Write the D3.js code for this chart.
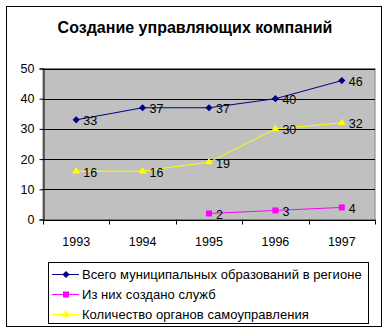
<!DOCTYPE html>
<html><head><meta charset="utf-8">
<script src="https://cdn.jsdelivr.net/npm/d3@7"></script>
<style>body{margin:0;background:#fff}svg{display:block;font-family:"Liberation Sans",Arial,sans-serif}</style>
</head><body>
<svg id="c" width="390" height="333"></svg>
<script>
const years = ["1993","1994","1995","1996","1997"];
const totalMunicipal = [33,37,37,40,46];
const servicesCreated = [null,null,2,3,4];
const selfGovBodies = [16,16,19,30,32];
const yTicks = [0,10,20,30,40,50];
const seriesNames = ["Всего муниципальных образований в регионе","Из них создано служб","Количество органов самоуправления"];
const seriesColors = ["#000080","#FF00FF","#FFFF00"];
const title = "Создание управляющих компаний";

const diamond = d3.symbol().type(d3.symbolSquare).size(26);
const square = d3.symbol().type(d3.symbolSquare).size(36);
const triangle = d3.symbol().type(d3.symbolTriangle).size(26);
const shapes = [diamond, square, triangle];
const rot = [45,0,0];

const svg = d3.select("#c");
svg.append("rect").attr("x",6.5).attr("y",6.5).attr("width",375).attr("height",320).attr("fill","#fff").attr("stroke","#000").attr("stroke-width",1);
svg.append("text").attr("x",195).attr("y",33).attr("text-anchor","middle").attr("font-size","16px").attr("font-weight","bold").text(title);

const L=43, R=375, T=68.5, B=219.5;
const x = d3.scaleBand().domain(years).range([L,R]);
const y = d3.scaleLinear().domain([0,50]).range([B,T]);

svg.append("rect").attr("x",L).attr("y",T).attr("width",R-L).attr("height",B-T).attr("fill","#C0C0C0").attr("stroke","#808080");
svg.append("g").selectAll("line").data(yTicks.slice(1)).join("line")
  .attr("x1",L).attr("x2",R).attr("y1",d=>Math.round(y(d))+0.5).attr("y2",d=>Math.round(y(d))+0.5).attr("stroke","#000");

const yAxis = svg.append("g").attr("transform",`translate(${L+0.5},0)`)
  .call(d3.axisLeft(y).tickValues(yTicks).tickSize(4).tickPadding(5));
yAxis.select(".domain").attr("stroke","#000");
yAxis.selectAll("text").attr("font-size","12.5px").attr("font-family","Liberation Sans, Arial, sans-serif").attr("fill","#000");

const xAxis = svg.append("g").attr("transform",`translate(0,${B+0.5})`)
  .call(d3.axisBottom(x).tickSize(0).tickPadding(17));
xAxis.select(".domain").attr("stroke","#000");
xAxis.selectAll("text").attr("font-size","12.5px").attr("font-family","Liberation Sans, Arial, sans-serif").attr("fill","#000");
svg.append("g").selectAll("line").data(years.concat(["end"])).join("line")
  .attr("x1",(d,i)=>Math.round(L+i*x.bandwidth())+0.5).attr("x2",(d,i)=>Math.round(L+i*x.bandwidth())+0.5)
  .attr("y1",B).attr("y2",B+5).attr("stroke","#000");

const allSeries = [totalMunicipal, servicesCreated, selfGovBodies];
const cx = d => x(d)+x.bandwidth()/2;
allSeries.forEach((vals,si)=>{
  const pts = years.map((yr,i)=>({yr,v:vals[i]})).filter(p=>p.v!==null);
  const line = d3.line().x(p=>cx(p.yr)).y(p=>y(p.v));
  svg.append("path").attr("d",line(pts)).attr("fill","none").attr("stroke",seriesColors[si]).attr("stroke-width",1);
  svg.append("g").selectAll("path").data(pts).join("path")
    .attr("transform",p=>`translate(${cx(p.yr)},${y(p.v)}) rotate(${rot[si]})`).attr("d",shapes[si]).attr("fill",seriesColors[si]);
  svg.append("g").selectAll("text").data(pts).join("text")
    .attr("x",p=>cx(p.yr)+7).attr("y",p=>y(p.v)+5.5).attr("font-size","12.5px").attr("fill","#000").text(p=>p.v);
});

// legend
svg.append("rect").attr("x",48.5).attr("y",262.5).attr("width",320).attr("height",61).attr("fill","#fff").attr("stroke","#000");
seriesNames.forEach((n,i)=>{
  const yy = 274 + i*20;
  svg.append("line").attr("x1",52).attr("x2",79).attr("y1",yy+0.5).attr("y2",yy+0.5).attr("stroke",seriesColors[i]);
  svg.append("path").attr("transform",`translate(66,${yy+0.5}) rotate(${rot[i]})`).attr("d",shapes[i]).attr("fill",seriesColors[i]);
  svg.append("text").attr("x",82).attr("y",yy+5).attr("font-size","13px").attr("letter-spacing","0.05px").attr("fill","#000").text(n);
});
</script>
</body></html>
